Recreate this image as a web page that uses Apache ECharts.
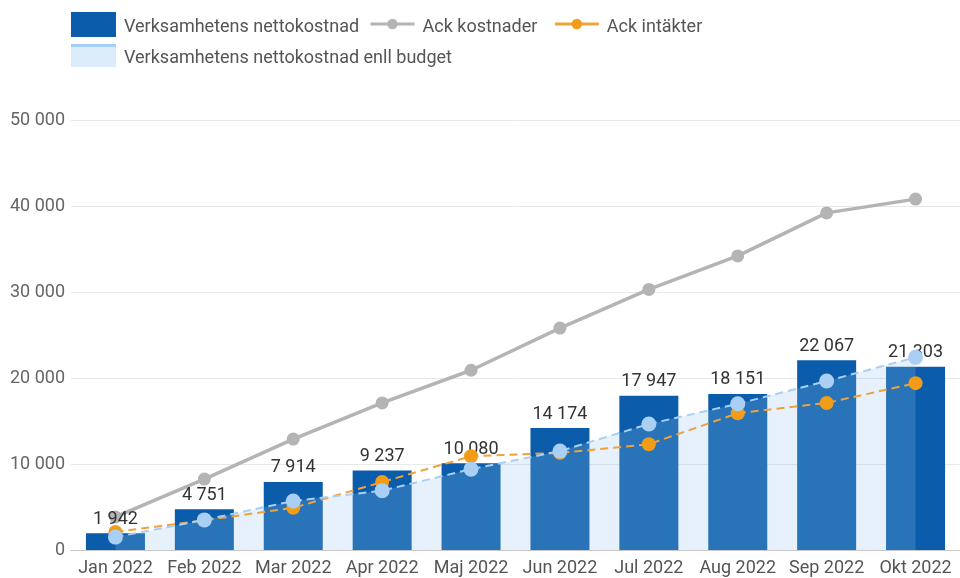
<!DOCTYPE html>
<html>
<head>
<meta charset="utf-8">
<script src="https://cdn.jsdelivr.net/npm/echarts@6/dist/echarts.min.js"></script>
<style>
  html, body { margin: 0; padding: 0; background: #fff; }
  #chart { width: 960px; height: 578px; }
</style>
</head>
<body>
<div id="chart"></div>
<script>
var months = ['Jan 2022', 'Feb 2022', 'Mar 2022', 'Apr 2022', 'Maj 2022', 'Jun 2022', 'Jul 2022', 'Aug 2022', 'Sep 2022', 'Okt 2022']
// Verksamhetens nettokostnad
var nettokostnad = [1942, 4751, 7914, 9237, 10080, 14174, 17947, 18151, 22067, 21303]
// Verksamhetens nettokostnad enll budget
var budget = [1500, 3500, 5700, 6900, 9400, 11500, 14650, 17000, 19650, 22400]
var ackKostnader = [3850, 8250, 12900, 17100, 20900, 25800, 30300, 34200, 39200, 40800]
var ackIntakter = [2100, 3450, 4900, 7900, 10900, 11300, 12300, 15900, 17100, 19400]
var yTicks = [0, 10000, 20000, 30000, 40000, 50000]

function fmt(v) {
  return String(Math.round(v)).replace(/\B(?=(\d{3})+(?!\d))/g, ' ')
}

var chart = echarts.init(document.getElementById('chart'))
var font = 'Roboto, "Noto Sans", sans-serif'
var legendText = {
  color: '#555', fontSize: 18, fontFamily: font, padding: [0, 0, 0, 3],
  rich: { t: { color: '#555', fontSize: 18, fontFamily: font, padding: [6, 0, 0, 0] } }
}

var option = {
  animation: false,
  textStyle: { fontFamily: font },
  legend: [
    {
      left: 71, top: 12, padding: 0,
      itemWidth: 45, itemHeight: 25,
      icon: 'rect',
      formatter: '{t|{name}}',
      textStyle: legendText,
      data: ['Verksamhetens nettokostnad']
    },
    {
      left: 369, top: 18, padding: 0,
      itemWidth: 44, itemHeight: 13, itemGap: 16,
      formatter: '{t|{name}}',
      textStyle: legendText,
      lineStyle: { type: 'solid', width: 3 },
      data: ['Ack kostnader', 'Ack intäkter']
    },
    {
      left: 71, top: 44, padding: 0,
      itemWidth: 45, itemHeight: 23,
      icon: 'rect',
      formatter: '{t|{name}}',
      itemStyle: { color: '#ddecfb' },
      textStyle: legendText,
      data: ['Verksamhetens nettokostnad enll budget']
    }
  ],
  graphic: [
    { type: 'rect', left: 71, top: 44, shape: { width: 45, height: 3 }, style: { fill: '#a6cdf4' }, z: 100 }
  ],
  grid: { left: 71, right: 0, top: 120, bottom: 28 },
  xAxis: {
    type: 'category',
    data: months,
    axisTick: { show: false },
    axisLine: { lineStyle: { color: '#c8c8c8', width: 1 } },
    axisLabel: { color: '#555', fontSize: 18, margin: 9, interval: 0, hideOverlap: false }
  },
  yAxis: {
    type: 'value',
    min: yTicks[0],
    max: yTicks[yTicks.length - 1],
    interval: 10000,
    axisLine: { show: false },
    axisTick: { show: false },
    axisLabel: { color: '#666', fontSize: 18, margin: 6, formatter: fmt },
    splitLine: { lineStyle: { color: '#e8e8e8', width: 1 } }
  },
  series: [
    {
      name: 'Ack kostnader',
      type: 'line',
      z: 1,
      data: ackKostnader,
      symbol: 'circle',
      symbolSize: 13,
      itemStyle: { color: '#b4b4b4' },
      lineStyle: { color: '#b4b4b4', width: 3.5 }
    },
    {
      name: 'Verksamhetens nettokostnad',
      type: 'bar',
      data: nettokostnad,
      barWidth: 59,
      itemStyle: { color: '#0b5dab' },
      label: {
        show: true,
        position: 'top',
        distance: 5,
        color: '#333',
        fontSize: 18,
        formatter: function (p) { return fmt(p.value) }
      }
    },
    {
      name: 'Ack intäkter',
      type: 'line',
      data: ackIntakter,
      symbol: 'circle',
      symbolSize: 14,
      itemStyle: { color: '#f39c1a' },
      lineStyle: { color: '#f0a23a', width: 2, type: [8, 5] }
    },
    {
      name: 'Verksamhetens nettokostnad enll budget',
      type: 'line',
      data: budget,
      symbol: 'circle',
      symbolSize: 15,
      itemStyle: { color: '#a9cff5' },
      lineStyle: { color: '#a9cff5', width: 2, type: [8, 5] },
      areaStyle: { color: 'rgba(146, 192, 239, 0.32)' }
    }
  ]
}
chart.setOption(option)
</script>
</body>
</html>
